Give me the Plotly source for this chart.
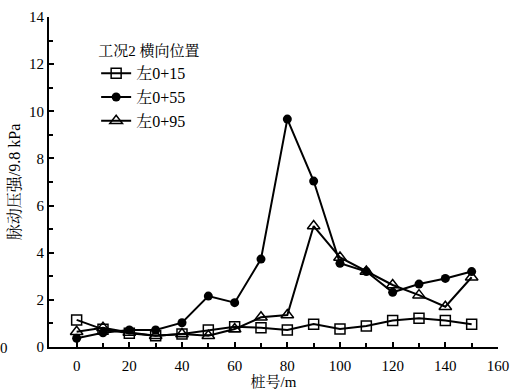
import plotly.graph_objects as go

x_pos = [0, 10, 20, 30, 40, 50, 60, 70, 80, 90, 100, 110, 120, 130, 140, 150]
s15 = [1.15, 0.75, 0.58, 0.48, 0.55, 0.72, 0.86, 0.82, 0.72, 0.97, 0.76, 0.89, 1.12, 1.22, 1.12, 0.97]
s55 = [0.37, 0.60, 0.72, 0.72, 1.03, 2.16, 1.88, 3.73, 9.67, 7.04, 3.55, 3.20, 2.32, 2.67, 2.91, 3.20]
s95 = [0.65, 0.82, 0.62, 0.48, 0.55, 0.48, 0.76, 1.26, 1.36, 5.13, 3.80, 3.20, 2.63, 2.20, 1.71, 2.96]
names = ["左0+15", "左0+55", "左0+95"]
legend_title = "工况2 横向位置"
x_title = "桩号/m"
y_title = "脉动压强/9.8 kPa"

FONT = "Liberation Serif, Noto Serif CJK SC, Noto Sans CJK SC, serif"

fig = go.Figure()
fig.add_trace(go.Scatter(x=x_pos, y=s15, name=names[0], mode="lines+markers",
                         line=dict(color="black", width=2),
                         marker=dict(symbol="square-open", size=10, color="black", line=dict(width=1.5))))
fig.add_trace(go.Scatter(x=x_pos, y=s55, name=names[1], mode="lines+markers",
                         line=dict(color="black", width=2),
                         marker=dict(symbol="circle", size=9, color="black")))
fig.add_trace(go.Scatter(x=x_pos, y=s95, name=names[2], mode="lines+markers",
                         line=dict(color="black", width=2),
                         marker=dict(symbol="triangle-up-open", size=11, color="black", line=dict(width=1.5))))

fig.update_layout(
    width=514, height=390,
    margin=dict(l=49, r=16, t=17, b=43, autoexpand=False),
    paper_bgcolor="white", plot_bgcolor="white",
    font=dict(family=FONT, size=15, color="black"),
    showlegend=True,
    legend=dict(title=dict(text=legend_title, font=dict(size=15)),
                x=0.105, y=0.94, xanchor="left", yanchor="top",
                bgcolor="rgba(0,0,0,0)", font=dict(size=16),
                itemwidth=30),
    xaxis=dict(range=[-10.5, 160], tickvals=[0, 20, 40, 60, 80, 100, 120, 140, 160],
               automargin=False,
               showgrid=False, zeroline=False, showline=True, linecolor="black", linewidth=2,
               ticks="inside", ticklen=5, tickwidth=1.5, tickcolor="black", ticklabelstandoff=4,
               minor=dict(tickvals=[10, 30, 50, 70, 90, 110, 130, 150], ticks="inside", ticklen=4, tickcolor="black"),
               title=dict(text=x_title, font=dict(size=15), standoff=6)),
    yaxis=dict(range=[0, 14], tickvals=[0, 2, 4, 6, 8, 10, 12, 14],
               automargin=False,
               showgrid=False, zeroline=False, showline=True, linecolor="black", linewidth=2,
               ticks="inside", ticklen=5, tickwidth=1.5, tickcolor="black",
               minor=dict(tickvals=[1, 3, 5, 7, 9, 11, 13], ticks="inside", ticklen=4, tickcolor="black"),
               title=dict(text=y_title, font=dict(size=16), standoff=4)),
)
fig.add_annotation(text="0", x=0, y=0, xref="paper", yref="paper", showarrow=False,
                   xanchor="left", yanchor="middle", font=dict(size=15), xshift=-51, yshift=-1)
fig.write_html("out.html")
